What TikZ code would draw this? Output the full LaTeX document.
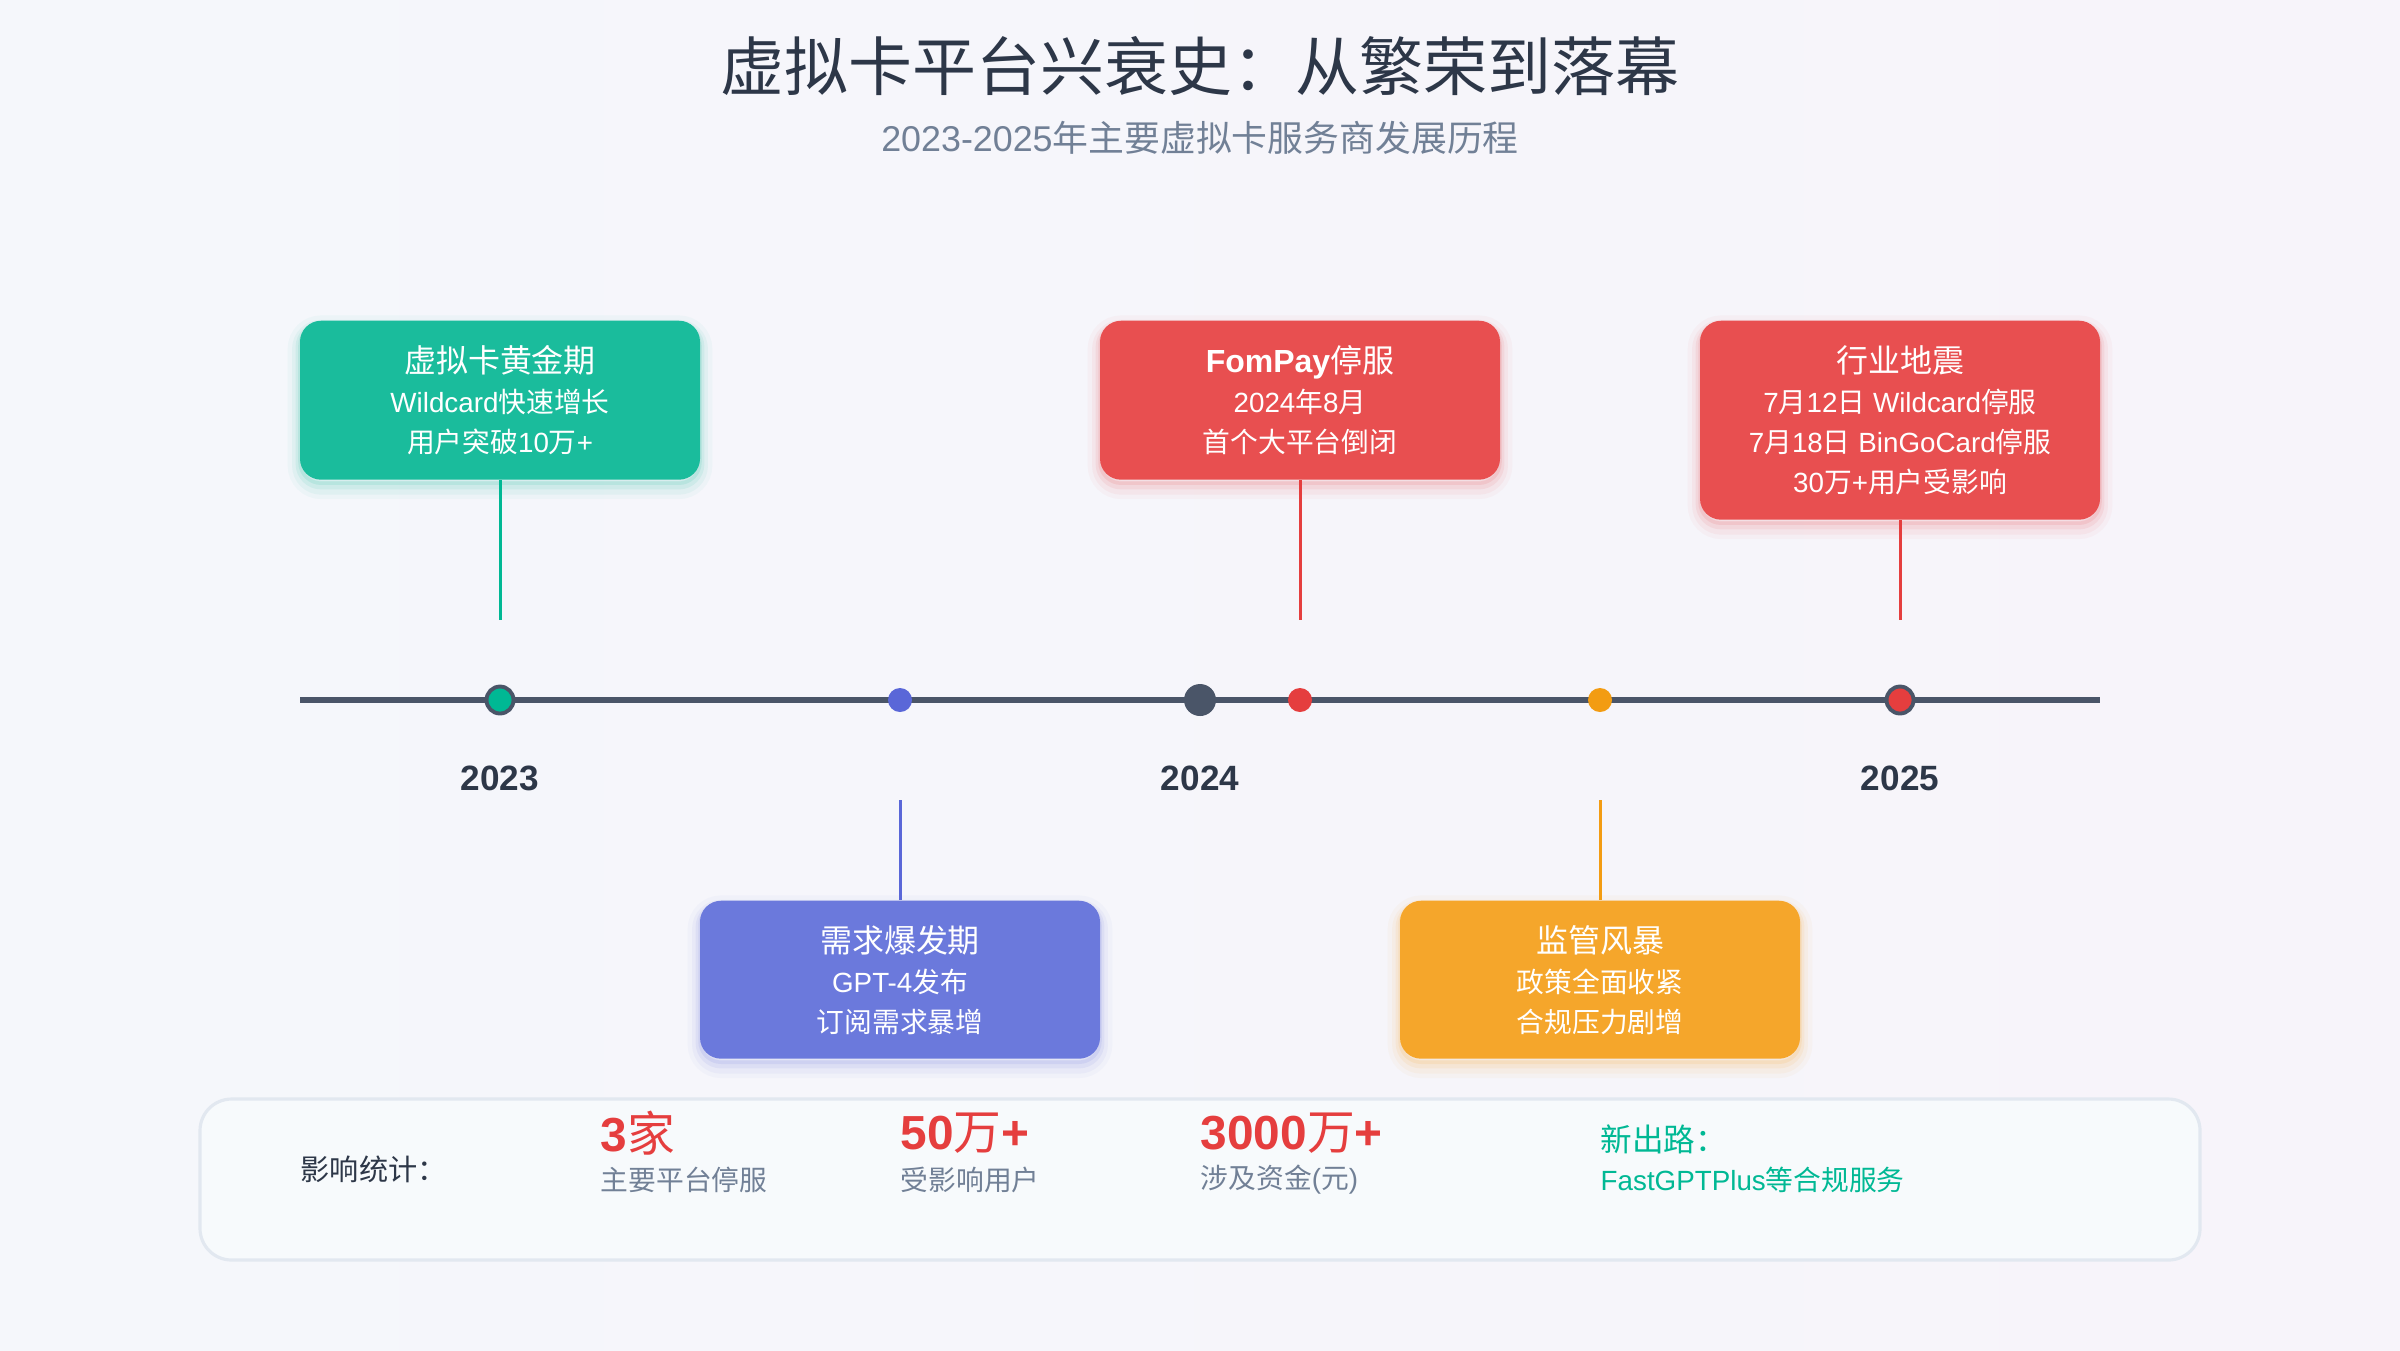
\documentclass[tikz,border=0pt]{standalone}
\usepackage{fontspec}
\setmainfont{Liberation Sans}
\newfontfamily\zhfont{Noto Sans CJK SC}
% CJK runs switch to the CJK family by themselves (always regular weight)
\XeTeXinterchartokenstate=1
\newXeTeXintercharclass\zhclass
\newcount\zhcnt
\zhcnt="4E00 \loop\XeTeXcharclass\zhcnt=\zhclass\advance\zhcnt by 1 \ifnum\zhcnt<"A000 \repeat
\zhcnt="3000 \loop\XeTeXcharclass\zhcnt=\zhclass\advance\zhcnt by 1 \ifnum\zhcnt<"3040 \repeat
\zhcnt="FF00 \loop\XeTeXcharclass\zhcnt=\zhclass\advance\zhcnt by 1 \ifnum\zhcnt<"FFF0 \repeat
\XeTeXinterchartoks 0 \zhclass = {\begingroup\zhfont\mdseries}
\XeTeXinterchartoks 4095 \zhclass = {\begingroup\zhfont\mdseries}
\XeTeXinterchartoks \zhclass 0 = {\endgroup}
\XeTeXinterchartoks \zhclass 4095 = {\endgroup}
\usepackage{tikz}
\usetikzlibrary{shapes,positioning,shadows}
\usepackage{xcolor}
\definecolor{tlink}{RGB}{45,55,72}
\definecolor{tlsub}{RGB}{113,128,150}
\definecolor{tlgray}{RGB}{74,85,104}
\definecolor{vcgreen}{RGB}{26,188,156}
\definecolor{vcgreendot}{RGB}{0,184,148}
\definecolor{vcred}{RGB}{232,79,80}
\definecolor{vcreddot}{RGB}{229,62,62}
\definecolor{vcblue}{RGB}{107,121,220}
\definecolor{vcbluedot}{RGB}{90,103,216}
\definecolor{vcorange}{RGB}{245,166,43}
\definecolor{vcorangedot}{RGB}{243,156,18}
\definecolor{statfill}{RGB}{247,250,252}
\definecolor{statline}{RGB}{226,232,240}
\definecolor{bgleft}{RGB}{245,247,251}
\definecolor{bgmid}{RGB}{242,240,247}
\definecolor{bgright}{RGB}{247,244,250}
\tikzset{glow/.style={general shadow={draw=#1, line width=7pt, opacity=0.04, shadow yshift=-2pt},
  general shadow={draw=#1, line width=4.5pt, opacity=0.06, shadow yshift=-2pt},
  general shadow={draw=#1, line width=2.5pt, opacity=0.09, shadow yshift=-1.5pt},
  general shadow={draw=#1, line width=1pt, opacity=0.12, shadow yshift=-1pt}}}
\tikzstyle{event} = [rectangle, rounded corners=6pt, minimum width=4cm, text=white, align=center, inner sep=0pt, anchor=north, font=\fontsize{7.9}{11.38}\selectfont]
\tikzstyle{stem} = [line width=0.85pt]
\tikzstyle{yeardot} = [circle, inner sep=0pt, minimum size=0.27cm, draw=tlgray, line width=1.1pt]
\tikzstyle{evdot} = [circle, inner sep=0pt, minimum size=0.24cm]
\tikzstyle{year} = [font=\fontsize{10}{12}\selectfont\bfseries, text=tlink, inner sep=0pt]
\tikzstyle{bignum} = [anchor=west, inner sep=0pt, text=vcreddot, font=\fontsize{13.6}{16}\selectfont\bfseries]
\tikzstyle{numlabel} = [anchor=west, inner sep=0pt, text=tlsub, font=\fontsize{7.9}{10}\selectfont]
\newcommand{\boxhead}[1]{{\fontsize{9.1}{11.38}\selectfont #1}}

\begin{document}
\begin{tikzpicture}[x=1cm, y=-1cm]
% page
\shade[left color=bgleft, middle color=bgmid, right color=bgright] (0,0) rectangle (24,13.5);
\node (title) [font=\fontsize{18.2}{22}\selectfont, text=tlink] at (12,0.665) {虚拟卡平台兴衰史：从繁荣到落幕};
\node (subtitle) [font=\fontsize{10.2}{12}\selectfont, text=tlsub] at (12,1.375) {2023-2025年主要虚拟卡服务商发展历程};

% timeline
\coordinate (tl-start) at (3,7);
\coordinate (tl-end) at (21,7);
\draw[line width=1.7pt, tlgray] (tl-start) -- (tl-end);
\node (d2023) [yeardot, fill=vcgreendot] at (5,7) {};
\node (dboom) [evdot, fill=vcbluedot] at (9,7) {};
\node (d2024) [circle, inner sep=0pt, minimum size=0.32cm, fill=tlgray] at (12,7) {};
\node (dfom) [evdot, fill=vcreddot] at (13,7) {};
\node (dstorm) [evdot, fill=vcorangedot] at (16,7) {};
\node (d2025) [yeardot, fill=vcreddot] at (19,7) {};
\node (y2023) [year, below=0.5cm of d2023] {2023};
\node (y2024) [year, below=0.49cm of d2024] {2024};
\node (y2025) [year, below=0.5cm of d2025] {2025};

% events above
\node (gold) [event, fill=vcgreen, glow=vcgreen, minimum height=1.59cm] at (5,3.2) {\boxhead{虚拟卡黄金期}\\Wildcard快速增长\\用户突破10万+};
\node (fompay) [event, fill=vcred, glow=vcred, minimum height=1.59cm] at (13,3.2) {\boxhead{\bfseries FomPay停服}\\2024年8月\\首个大平台倒闭};
\node (quake) [event, fill=vcred, glow=vcred, minimum height=1.99cm] at (19,3.2) {\boxhead{行业地震}\\7月12日 Wildcard停服\\7月18日 BinGoCard停服\\30万+用户受影响};
% events below
\node (boom) [event, fill=vcblue, glow=vcblue, minimum height=1.58cm] at (9,9.0) {\boxhead{需求爆发期}\\GPT-4发布\\订阅需求暴增};
\node (storm) [event, fill=vcorange, glow=vcorange, minimum height=1.58cm] at (16,9.0) {\boxhead{监管风暴}\\政策全面收紧\\合规压力剧增};

\coordinate (gold-tick) at (5,6.2);
\coordinate (fompay-tick) at (13,6.2);
\coordinate (quake-tick) at (19,6.2);
\coordinate (boom-tick) at (9,8.0);
\coordinate (storm-tick) at (16,8.0);
\draw[stem, vcgreendot] (gold) -- (gold-tick);
\draw[stem, vcreddot] (fompay) -- (fompay-tick);
\draw[stem, vcreddot] (quake) -- (quake-tick);
\draw[stem, vcbluedot] (boom-tick) -- (boom);
\draw[stem, vcorangedot] (storm-tick) -- (storm);

% impact panel
\node (stats) [rectangle, rounded corners=9pt, minimum width=20cm, minimum height=1.61cm, fill=statfill, draw=statline, line width=0.9pt] at (12,11.795) {};
\node (impact) [anchor=west, inner sep=0pt, text=tlink, font=\fontsize{8.3}{10}\selectfont] at (3.0,11.69) {影响统计：};
\node (n-plat) [bignum] at (6.0,11.335) {3家};
\node (l-plat) [numlabel] at (6.0,11.8) {主要平台停服};
\node (n-user) [bignum] at (9.0,11.335) {50万+};
\node (l-user) [numlabel] at (9.0,11.8) {受影响用户};
\node (n-fund) [bignum] at (12.0,11.335) {3000万+};
\node (l-fund) [numlabel] at (12.0,11.8) {涉及资金(元)};
\node (way) [anchor=west, inner sep=0pt, text=vcgreendot, font=\fontsize{9}{11}\selectfont] at (16.0,11.39) {新出路：};
\node (way-text) [anchor=west, inner sep=0pt, text=vcgreendot, font=\fontsize{7.9}{10}\selectfont] at (16.0,11.8) {FastGPTPlus等合规服务};
\end{tikzpicture}
\end{document}
